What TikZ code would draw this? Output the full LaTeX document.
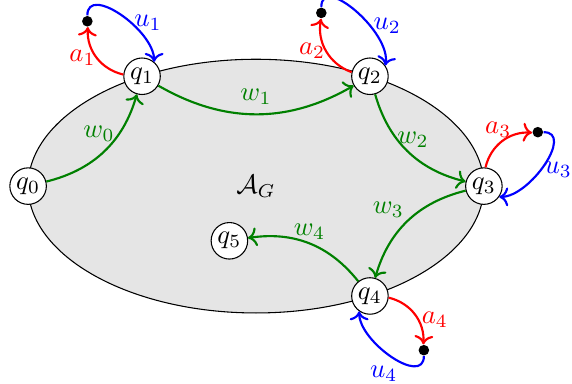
\documentclass[tikz,border=0pt]{standalone}
\usetikzlibrary{arrows.meta,shapes.geometric}
\tikzset{
  state/.style={circle,draw,fill=white,inner sep=1pt,minimum size=4.8mm},
  dotpt/.style={circle,fill=black,inner sep=1.4pt},
  trans/.style={->,thick,green!50!black},
  act/.style={->,thick,red},
  back/.style={->,thick,blue},
  lbl/.style={inner sep=1pt}
}
\begin{document}
\begin{tikzpicture}
  \useasboundingbox (-3.37,-2.6) rectangle (4.16,2.45);
  % the game arena
  \node[ellipse,draw,fill=gray!20,minimum width=6cm,minimum height=3.34cm] (ag) {$\mathcal{A}_G$};
  \node[state] (q0) at (180:3cm and 1.67cm) {$q_0$};
  \node[state] (q1) at (120:3cm and 1.67cm) {$q_1$};
  \node[state] (q2) at (60:3cm and 1.67cm) {$q_2$};
  \node[state] (q3) at (0:3cm and 1.67cm) {$q_3$};
  \node[state] (q4) at (-60:3cm and 1.67cm) {$q_4$};
  \node[state] (q5) at (-0.35,-0.72) {$q_5$};
  % outside points
  \node[dotpt] (d1) at (-2.22,2.17) {};
  \node[dotpt] (d2) at (0.86,2.28) {};
  \node[dotpt] (d3) at (3.71,0.71) {};
  \node[dotpt] (d4) at (2.21,-2.16) {};
  % inner run
  \draw[trans] (q0) to[bend right] node[above,xshift=-2pt] {$w_0$} (q1);
  \draw[trans] (q1) to[bend right] node[above] {$w_1$} (q2);
  \draw[trans] (q2) to[bend right] node[lbl,above,xshift=2pt] {$w_2$} (q3);
  \draw[trans] (q3) to[bend right] node[lbl,above left] {$w_3$} (q4);
  \draw[trans] (q4) to[bend right] node[lbl,above] {$w_4$} (q5);
  % excursions
  \draw[act] (q1) to[bend left=40] node[inner sep=0pt,left] {$a_1$} (d1);
  \draw[act] (q2) to[bend left=40] node[inner sep=0pt,left] {$a_2$} (d2);
  \draw[act] (q3) to[bend left=40] node[lbl,above,xshift=-1.5pt] {$a_3$} (d3);
  \draw[act] (q4) to[bend left=40] node[lbl,pos=0.6,right] {$a_4$} (d4);
  \draw[back] (d1) to[out=90,in=90] node[lbl,pos=0.6,right] {$u_1$} (q1.50);
  \draw[back] (d2) to[out=90,in=80] node[lbl,pos=0.65,right] {$u_2$} (q2.35);
  \draw[back] (d3) to[out=0,in=0] node[lbl,pos=0.55,right] {$u_3$} (q3.-35);
  \draw[back] (d4) to[out=-90,in=-90] node[lbl,pos=0.4,below left] {$u_4$} (q4.-125);
\end{tikzpicture}
\end{document}
